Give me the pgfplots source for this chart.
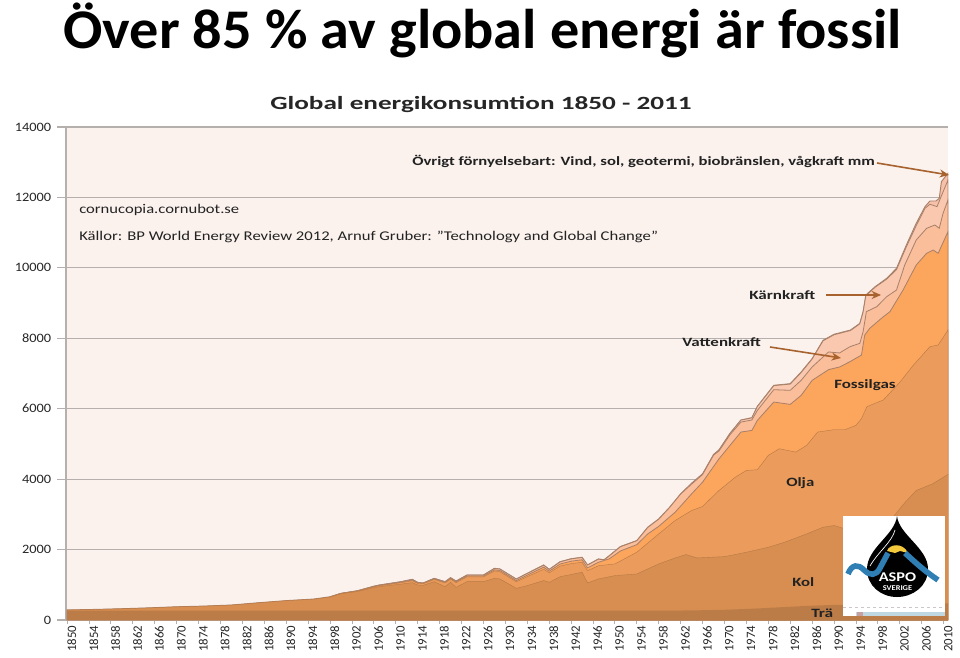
\documentclass[border=0pt]{standalone}
\usepackage{pgfplots}
\pgfplotsset{compat=1.18}
\usepackage{fontspec}
\setmainfont{Carlito}
\usetikzlibrary{arrows.meta}
\definecolor{bgc}{HTML}{FBF2EE}
\definecolor{gridc}{HTML}{B5AFAD}
\definecolor{woodc}{HTML}{BC7C47}
\definecolor{coalc}{HTML}{D78E50}
\definecolor{oilc}{HTML}{EB9C5C}
\definecolor{gasc}{HTML}{FBA55D}
\definecolor{hydroc}{HTML}{FBBE9B}
\definecolor{nucc}{HTML}{F9C8AE}
\definecolor{othc}{HTML}{F7C0A8}
\definecolor{edgec}{HTML}{A8806A}
\definecolor{arrc}{HTML}{A8622E}
\definecolor{txtc}{HTML}{222222}
\definecolor{stripc}{HTML}{C0D8E2}
\definecolor{pinkc}{HTML}{C8A0A0}
\definecolor{yelc}{HTML}{F5C93C}
\definecolor{bluec}{HTML}{2F7FB5}
\newcommand\lab[4]{\node[anchor=base west,inner sep=0pt,text=txtc] at (#1,#2) {\resizebox{#3pt}{\height}{#4}};}
\begin{document}
\begin{tikzpicture}
\path[use as bounding box] (0,0) rectangle (720pt,492.75pt);
\fill[white] (0,0) rectangle (720pt,492.75pt);
\begin{axis}[
  at={(49.5pt,27.75pt)}, anchor=south west,
  scale only axis, width=661.5pt, height=369.75pt,
  xmin=1849.8, xmax=2010.8, ymin=0, ymax=14000,
  axis x line=bottom, axis y line=left,
  axis line style={-,draw=gridc,line width=1.1pt},
  axis background/.style={fill=bgc},
  xtick={1850,1854,...,2010}, minor x tick num=3,
  ytick={0,2000,...,14000}, scaled y ticks=false,
  ymajorgrids, grid style={draw=gridc,line width=0.9pt},
  tick align=outside,
  major tick length=3pt, minor tick length=2.5pt,
  xtick style={draw=gridc,line width=0.7pt},
  minor tick style={draw=gridc,line width=0.7pt},
  ytick style={draw=gridc,line width=0.9pt},
  /pgf/number format/assume math mode=true,
  /pgf/number format/1000 sep={},
  xticklabel style={rotate=90,anchor=east,font=\fontsize{9.6}{10}\selectfont,text=black!85,inner sep=1pt,yshift=-3.5pt},
  yticklabel style={font=\fontsize{9.6}{10}\selectfont,text=black!85,xscale=1.12,inner sep=1pt,xshift=-6pt},
]
% cumulative tops of the stacked layers; drawn from the top down
\addplot[fill=othc,draw=edgec,line width=0.7pt] coordinates {(1850,285)(1855,300)(1860,320)(1865,345)(1870,375)(1875,395)(1880,425)(1885,490)(1890,550)(1895,595)(1898,660)(1900,757)(1903,830)(1906,960)(1907,994)(1909,1041)(1911,1090)(1913,1155)(1914,1069)(1915,1050)(1917,1183)(1919,1088)(1920,1202)(1921,1107)(1923,1278)(1926,1278)(1928,1467)(1929,1450)(1932,1164)(1934,1327)(1937,1562)(1938,1438)(1940,1656)(1942,1740)(1944,1782)(1945,1564)(1947,1735)(1948,1710)(1949,1830)(1951,2086)(1954,2256)(1956,2635)(1958,2870)(1960,3204)(1962,3583)(1964,3886)(1966,4152)(1968,4700)(1969,4830)(1971,5300)(1973,5680)(1975,5744)(1976,6067)(1979,6664)(1982,6711)(1984,7043)(1986,7422)(1988,7944)(1990,8114)(1993,8234)(1994.7,8424)(1995.3,8755)(1995.8,9228)(1997.5,9465)(1999.6,9702)(2001.4,9986)(2003.2,10649)(2005,11265)(2006.6,11738)(2007.5,11899)(2008.6,11899)(2009.2,11975)(2009.6,12449)(2010.8,12685)} \closedcycle;
\addplot[fill=nucc,draw=edgec,line width=0.6pt] coordinates {(1968,4695)(1969,4825)(1971,5295)(1973,5675)(1975,5739)(1976,6060)(1979,6655)(1982,6700)(1984,7030)(1986,7410)(1988,7930)(1990,8100)(1993,8220)(1994.7,8410)(1995.3,8740)(1995.8,9210)(1997.5,9450)(1999.6,9680)(2001.4,9950)(2003.2,10600)(2005,11200)(2006.6,11691)(2007.5,11805)(2008.8,11738)(2009.4,11970)(2010.8,12496)} \closedcycle;
\addplot[fill=hydroc,draw=edgec,line width=0.6pt] coordinates {(1898,655)(1900,755)(1903,828)(1906,957)(1907,990)(1909,1038)(1911,1087)(1913,1152)(1914,1065)(1915,1047)(1917,1180)(1919,1085)(1920,1198)(1921,1103)(1923,1274)(1926,1274)(1928,1462)(1929,1445)(1932,1160)(1934,1322)(1937,1556)(1938,1432)(1940,1650)(1942,1734)(1944,1776)(1945,1558)(1947,1729)(1948,1704)(1949,1824)(1951,2080)(1954,2250)(1956,2629)(1958,2864)(1960,3198)(1962,3577)(1964,3860)(1966,4130)(1968,4680)(1969,4800)(1971,5260)(1973,5620)(1975,5680)(1976,5953)(1979,6540)(1982,6522)(1984,6806)(1986,7185)(1988,7470)(1989,7612)(1991,7583)(1992.9,7761)(1994.7,7856)(1995.3,8187)(1995.9,8755)(1997.8,8897)(1999.6,9181)(2001.4,9371)(2002.9,10081)(2005,10791)(2006.9,11123)(2008.4,11217)(2009.2,11123)(2009.9,11549)(2010.8,11928)} \closedcycle;
\addplot[fill=gasc,draw=edgec,line width=0.6pt] coordinates {(1898,652)(1900,753)(1903,825)(1906,950)(1907,982)(1909,1028)(1911,1075)(1913,1135)(1914,1055)(1915,1040)(1917,1167)(1919,1070)(1920,1185)(1921,1085)(1923,1250)(1926,1250)(1928,1425)(1929,1405)(1932,1120)(1934,1275)(1937,1500)(1938,1385)(1940,1590)(1942,1670)(1944,1710)(1945,1480)(1947,1640)(1949,1740)(1951,1960)(1954,2140)(1956,2445)(1958,2660)(1961,3062)(1964,3583)(1966,3915)(1969,4578)(1973,5337)(1975,5384)(1976,5668)(1979,6190)(1982,6123)(1984,6380)(1986,6806)(1989,7110)(1991,7185)(1992.9,7335)(1995,7524)(1995.6,8092)(1996.5,8282)(1999,8613)(2000.2,8755)(2002.6,9371)(2005,10081)(2006.9,10413)(2008.1,10507)(2009,10413)(2010.8,11028)} \closedcycle;
\addplot[fill=oilc,draw=coalc!85!black,line width=0.3pt] coordinates {(1898,650)(1900,750)(1903,820)(1906,940)(1907,970)(1909,1015)(1911,1060)(1913,1115)(1914,1040)(1915,1030)(1917,1150)(1919,1050)(1920,1165)(1921,1060)(1923,1225)(1926,1225)(1928,1390)(1929,1370)(1932,1085)(1934,1230)(1937,1440)(1938,1340)(1940,1530)(1942,1600)(1944,1640)(1945,1400)(1947,1540)(1950,1592)(1954,1924)(1958,2445)(1961,2825)(1964,3109)(1966,3223)(1969,3678)(1972,4057)(1974,4247)(1976,4266)(1978,4674)(1980,4863)(1983,4768)(1985,4958)(1987,5337)(1990,5404)(1992,5404)(1994,5527)(1995,5716)(1996,6058)(1999,6248)(2002,6750)(2004.5,7240)(2007.5,7761)(2009,7809)(2010.8,8234)} \closedcycle;
\addplot[fill=coalc,draw=coalc!85!black,line width=0.3pt] coordinates {(1850,283)(1855,298)(1860,318)(1865,343)(1870,373)(1875,393)(1880,423)(1885,488)(1890,548)(1895,590)(1898,650)(1900,745)(1903,810)(1906,920)(1907,946)(1909,985)(1911,1020)(1913,1060)(1914,994)(1915,985)(1917,1088)(1919,946)(1920,1069)(1921,927)(1923,1088)(1926,1088)(1928,1183)(1929,1166)(1932,899)(1934,976)(1937,1120)(1938,1070)(1940,1230)(1944,1355)(1945,1052)(1947,1166)(1950,1260)(1954,1308)(1958,1592)(1961,1763)(1963,1858)(1965,1763)(1970,1800)(1974,1924)(1978,2066)(1981,2209)(1985,2445)(1988,2635)(1990,2683)(1992,2588)(1996,2560)(1999,2650)(2001,2967)(2003,3346)(2005,3678)(2008,3868)(2011,4152)} \closedcycle;
\addplot[fill=woodc,draw=none] coordinates {(1850,265)(1960,265)(1965,275)(1970,290)(1975,320)(1980,360)(1985,400)(1990,430)(2000,445)(2011,470)} \closedcycle;
\end{axis}
\begin{scope}[x=.75pt,y=-.75pt,yshift=492.75pt]
% longer tick marks on the value axis
\foreach \k in {0,...,7} \draw[gridc,line width=0.9pt] (57,620-70.43*\k) -- (66,620-70.43*\k);
% titles (resized to the reference's widths)
\node[anchor=base west,inner sep=0pt] at (63,49) {\resizebox{629pt}{\height}{\fontsize{42}{46}\selectfont\bfseries Över 85 \% av global energi är fossil}};
\node[anchor=base west,inner sep=0pt,text=black!85] at (270,110) {\resizebox{316pt}{\height}{\fontsize{14}{16}\selectfont\bfseries Global energikonsumtion 1850 - 2011}};
\lab{79}{214}{120}{\fontsize{10}{12}\selectfont cornucopia.cornubot.se}
\lab{79}{241}{434}{\fontsize{10}{12}\selectfont Källor: BP World Energy Review 2012, Arnuf Gruber: "Technology and Global Change"}
\lab{412}{166}{347}{\fontsize{9.5}{12}\selectfont\bfseries Övrigt förnyelsebart: Vind, sol, geotermi, biobränslen, vågkraft mm}
\lab{749}{300}{49.5}{\fontsize{9.5}{12}\selectfont\bfseries Kärnkraft}
\lab{682}{347}{59}{\fontsize{9.5}{12}\selectfont\bfseries Vattenkraft}
\lab{834}{389}{46}{\fontsize{9.5}{12}\selectfont\bfseries Fossilgas}
\lab{786}{487}{21}{\fontsize{9.5}{12}\selectfont\bfseries Olja}
\lab{792}{587}{16.5}{\fontsize{9.5}{12}\selectfont\bfseries Kol}
\lab{811}{617}{16.5}{\fontsize{9.5}{12}\selectfont\bfseries Trä}
% arrows
\draw[arrc,line width=1.2pt,-{Stealth[length=7pt,width=6pt]}] (877,163) -- (949,175);
\draw[arrc,line width=1.2pt,-{Stealth[length=7pt,width=6pt]}] (826,295) -- (881,295);
\draw[arrc,line width=1.2pt,-{Stealth[length=7pt,width=6pt]}] (770,347) -- (841,358);
% ASPO logo
\fill[white] (843,516) rectangle (945,616);
\draw[gridc!70,dash pattern=on 2pt off 2.5pt,line width=.5pt] (843,607.5) -- (945,607.5);
\fill[stripc] (856,612) rectangle (945,616);
\fill[pinkc] (857,612) rectangle (863,616);
\fill[black] (897,516) .. controls (899,535) and (928,548) .. (928,569) .. controls (928,586) and (913,597) .. (897,597) .. controls (881,597) and (867,586) .. (867,569) .. controls (867,548) and (895,535) .. (897,516) -- cycle;
\draw[white,line width=.5pt] (895,530) .. controls (892,542) and (878,552) .. (870,566);
\fill[yelc] (887,551) .. controls (889,544) and (903,542) .. (908,553) -- (900,551) -- (895,553) -- cycle;
\draw[bluec,line width=4.2pt,line cap=butt] (848,574) .. controls (852,564) and (858,564) .. (864,570) .. controls (870,576) and (876,576) .. (880,568) -- (888,553);
\draw[bluec,line width=4.2pt,line cap=butt] (905,553) .. controls (918,565) and (926,572) .. (938,580);
\node[white,inner sep=0pt] at (897.5,577) {\resizebox{28pt}{\height}{\fontsize{10}{12}\selectfont\bfseries ASPO}};
\node[white,inner sep=0pt] at (897.5,588.5) {\resizebox{22pt}{\height}{\fontsize{5.5}{6}\selectfont\bfseries SVERIGE}};
\end{scope}
\end{tikzpicture}
\end{document}
